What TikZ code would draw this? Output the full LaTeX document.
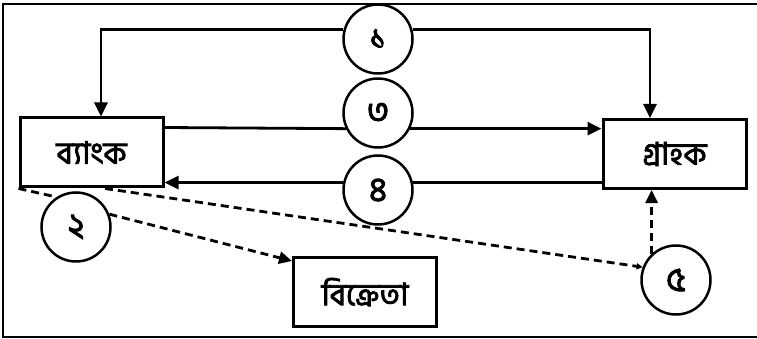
\documentclass[tikz,border=0pt]{standalone}
\usepackage{fontspec}
\newfontfamily\bn[Script=Bengali,FakeBold=2.6]{Hind Siliguri}
\usetikzlibrary{arrows.meta}
\begin{document}
\begin{tikzpicture}[x=1pt,y=-1pt,
  line width=2.8pt,
  box/.style={draw, rectangle, minimum width=143pt, minimum height=69pt,
              inner sep=0pt, line width=3pt, font=\bn\fontsize{31}{33}\selectfont},
  num/.style={draw, circle, minimum size=69pt, inner sep=0pt, fill=white,
              line width=2.5pt, font=\bn\fontsize{34}{36}\selectfont},
  flow/.style={-{Triangle[length=14pt,width=13pt]}},
  dashflow/.style={dash pattern=on 8pt off 5pt, -{Triangle[length=13pt,width=12pt]}},
  dashlink/.style={dash pattern=on 8pt off 5pt}]
\useasboundingbox (0,0) rectangle (757,339);
% open frame round the diagram
\draw (757,4) -- (3,4) -- (3,337) -- (757,337);

% parties
\node[box] (bank)   at (91.5,152.5) {ব্যাংক};
\node[box] (cust)   at (674.5,154)  {গ্রাহক};
\node[box] (seller) at (365,292)    {বিক্রেতা};

% numbered steps
\node[num] (c1) at (378,39)  {১};
\node[num] (c3) at (378,113) {৩};
\node[num] (c4) at (378,190) {৪};
\node[num] (c2) at (76,227)  {২};
\node[num] (c5) at (676,280) {৫};

% step 1: to both parties
\draw[flow] (c1.165) -| ([xshift=9.5pt]bank.north);
\draw[flow] (c1.15) -| ([xshift=-24.5pt]cust.north);

% step 3: bank to customer
\draw ([yshift=25pt]bank.east) -- (c3.206);
\draw[flow] (c3.334) -- (cust.west |- c3.334);

% step 4: customer to bank
\draw (cust.west |- c4.12) -- (c4.12);
\draw[flow] (c4.168) -- (bank.east |- c4.168);

% step 2: bank to seller
\draw[dashlink] (bank.south west) -- (c2.123);
\draw[dashflow] (c2.21) -- ([yshift=-5pt]seller.north west);

% step 5: bank to customer
\draw[dash pattern=on 8pt off 5pt, -{Triangle[length=6pt,width=6pt]}]
  ([xshift=13.5pt]bank.south) -- (c5.159);
\draw[dashflow] (c5.133) -- (c5.133 |- cust.south);
\end{tikzpicture}
\end{document}
